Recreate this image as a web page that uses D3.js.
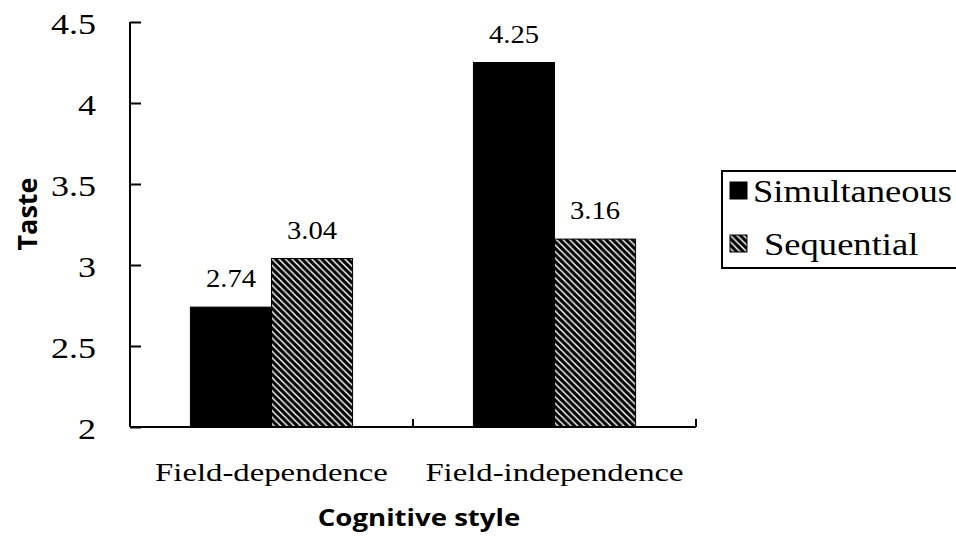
<!DOCTYPE html>
<html><head><meta charset="utf-8">
<script src="https://cdn.jsdelivr.net/npm/d3@7"></script>
<style>
body{margin:0;background:#fff;}
svg{display:block;}
</style></head>
<body>
<svg id="chart" width="956" height="540"></svg>
<script>
const categories = ["Field-dependence", "Field-independence"];
const seriesNames = ["Simultaneous", "Sequential"];
const simultaneous = [2.74, 4.25];
const sequential = [3.04, 3.16];
const yTicks = [2, 2.5, 3, 3.5, 4, 4.5];
const yTickLabels = ["2", "2.5", "3", "3.5", "4", "4.5"];

(function(){
const svg = d3.select("#chart");
const serif = "'Liberation Serif','Times New Roman',serif";
const sans = "'Open Sans','Noto Sans',sans-serif";

const defs = svg.append("defs");
const p = 6.6;
const pat = defs.append("pattern").attr("id","hatch").attr("patternUnits","userSpaceOnUse")
  .attr("width",p).attr("height",p);
pat.append("rect").attr("width",p).attr("height",p).attr("fill","#000");
pat.append("path").attr("d",`M0,0L${p},${p}M${-p/2},${p/2}L${p/2},${p*1.5}M${p/2},${-p/2}L${p*1.5},${p/2}`)
  .attr("stroke","#fff").attr("stroke-width",1.5);

const mLeft = 130, mRight = 696, mTop = 22, mBottom = 427;
const x = d3.scaleBand().domain(categories).range([mLeft, mRight]).paddingInner(0).paddingOuter(0);
const xs = d3.scaleBand().domain(seriesNames).range([0, x.bandwidth()]).paddingInner(0).paddingOuter(0.745);
const y = d3.scaleLinear().domain([2, 4.5]).range([mBottom, mTop]);

function txt(g, s, tx, ty, size, anchor, font, weight, sx) {
  return g.append("text").attr("transform", `translate(${tx},${ty}) scale(${sx},1)`)
    .attr("text-anchor", anchor).attr("font-family", font).attr("font-size", size)
    .attr("font-weight", weight||"normal").attr("fill","#000").text(s);
}

const values = [simultaneous, sequential];
const fills = ["#000", "url(#hatch)"];
seriesNames.forEach((s, si) => {
  svg.append("g").selectAll("rect").data(categories).join("rect")
    .attr("x", c => x(c) + xs(s)).attr("width", xs.bandwidth())
    .attr("y", (c, i) => y(values[si][i])).attr("height", (c, i) => y(2) - y(values[si][i]))
    .attr("fill", fills[si]).attr("stroke", "#000").attr("stroke-width", 1);
});
const lg = svg.append("g");
seriesNames.forEach((s, si) => {
  categories.forEach((c, i) => {
    txt(lg, values[si][i].toFixed(2), x(c) + xs(s) + xs.bandwidth()/2, y(values[si][i]) - 20, 26, "middle", serif, "normal", 1.1);
  });
});

const yAxis = d3.axisRight(y).tickValues(yTicks).tickSize(11).tickFormat("");
const yg = svg.append("g").attr("transform", `translate(${mLeft},0)`).call(yAxis);
yg.select(".domain").attr("d", `M0,${mTop}V${mBottom}`).attr("stroke","#000").attr("stroke-width",2);
yg.selectAll(".tick line").attr("stroke","#000").attr("stroke-width",2);
yTicks.forEach((t, i) => txt(svg, yTickLabels[i], 96, y(t) + 12, 30, "end", serif, "normal", 1.2));

const xg = svg.append("g").attr("transform", `translate(0,${mBottom})`);
xg.append("line").attr("x1", mLeft).attr("x2", mRight).attr("stroke","#000").attr("stroke-width",2);
const xTickPos = categories.map(c => x(c) + x.bandwidth());
xg.selectAll("line.t").data(xTickPos).join("line").attr("class","t")
  .attr("x1", d => d).attr("x2", d => d).attr("y1", 0).attr("y2", -8).attr("stroke","#000").attr("stroke-width",2);
categories.forEach(c => txt(svg, c, x(c) + x.bandwidth()/2, 481, 26, "middle", serif, "normal", 1.26));

txt(svg, "Cognitive style", 419, 526, 24, "middle", sans, "bold", 1.15);
svg.append("text").attr("transform", `translate(37,214) rotate(-90)`)
  .attr("text-anchor","middle").attr("font-family", sans).attr("font-size", 27).attr("font-weight","bold").text("Taste");

const leg = svg.append("g");
leg.append("rect").attr("x", 722).attr("y", 171).attr("width", 260).attr("height", 97)
  .attr("fill","#fff").attr("stroke","#000").attr("stroke-width",2);
seriesNames.forEach((s, i) => {
  const yy = 190 + i * 53;
  leg.append("rect").attr("x", 730).attr("y", yy - 8).attr("width", 17).attr("height", 17)
    .attr("fill", fills[i]).attr("stroke","#000");
  txt(leg, s, i === 0 ? 753 : 764, yy + 12, 31, "start", serif, "normal", 1.18);
});
})();
</script>
</body></html>
